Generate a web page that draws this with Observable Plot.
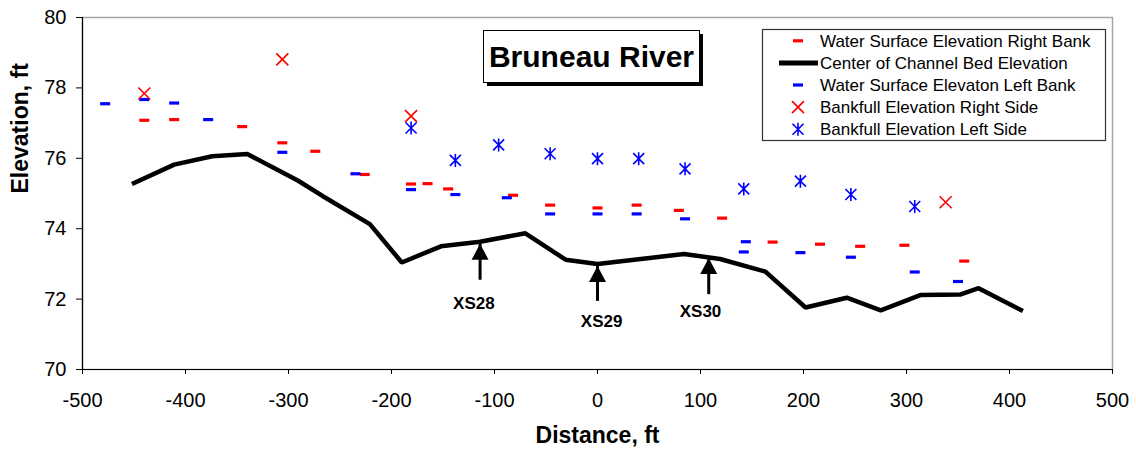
<!DOCTYPE html>
<html><head><meta charset="utf-8">
<script src="https://cdn.jsdelivr.net/npm/d3@7"></script>
<script src="https://cdn.jsdelivr.net/npm/@observablehq/plot@0.6"></script>
<style>body{margin:0;background:#fff;} #chart{width:1136px;height:450px;}</style>
</head><body><div id="chart"></div>
<script>
// ---- data ----
const bedX = [-452,-411,-374,-340,-291,-267,-221,-190,-152,-114,-70,-31,0,84,119,163,202,242,275,314,352,370,413];
const bedY = [75.27,75.82,76.06,76.12,75.37,74.93,74.13,73.04,73.50,73.63,73.87,73.12,73.00,73.28,73.14,72.78,71.76,72.04,71.68,72.12,72.13,72.31,71.66];

const wsRightX = [-440,-411,-345,-306,-274,-226,-181,-165,-145,-82,-46,0,38,79,121,170,216,255,298,356];
const wsRightY = [77.08,77.10,76.90,76.44,76.20,75.54,75.27,75.28,75.13,74.95,74.67,74.59,74.67,74.52,74.30,73.62,73.56,73.50,73.53,73.08];

const wsLeftX = [-478,-440,-411,-378,-306,-235,-181,-138,-88,-46,0,38,85,144,142,197,246,308,350];
const wsLeftY = [77.55,77.67,77.57,77.10,76.17,75.56,75.11,74.97,74.88,74.42,74.42,74.42,74.28,73.63,73.34,73.32,73.19,72.77,72.50];

const bankRightX = [-440,-306,-181,338];
const bankRightY = [77.84,78.81,77.20,74.75];

const bankLeftX = [-181,-138,-96,-46,0,40,85,142,197,246,308];
const bankLeftY = [76.86,75.94,76.38,76.13,75.99,75.99,75.70,75.13,75.35,74.97,74.63];

const xsLabels = ["XS28","XS29","XS30"];
const xsX = [-114,0,108];
const xsTipY = [73.57,72.94,73.17];
const xsBaseY = [72.55,71.95,72.14];
const xsLabelX = [-120,4,100];
const xsLabelY = [71.86,71.36,71.64];

const xTicks = [-500,-400,-300,-200,-100,0,100,200,300,400,500];
const yTicks = [70,72,74,76,78,80];

const seriesNames = ["Water Surface Elevation Right Bank","Center of Channel Bed Elevation","Water Surface Elevaton Left Bank","Bankfull Elevation Right Side","Bankfull Elevation Left Side"];
const chartTitle = "Bruneau River";

// ---- tables ----
const zip = (xs, ys) => xs.map((x, i) => ({x, y: ys[i]}));
const bed = zip(bedX, bedY), wsR = zip(wsRightX, wsRightY), wsL = zip(wsLeftX, wsLeftY);
const bkR = zip(bankRightX, bankRightY), bkL = zip(bankLeftX, bankLeftY);
const xs = xsLabels.map((t, i) => ({t, x: xsX[i], tip: xsTipY[i], base: xsBaseY[i], lx: xsLabelX[i], ly: xsLabelY[i]}));

// ---- symbols ----
const dashSym = {draw(c){c.moveTo(-5,-1.6);c.lineTo(5,-1.6);c.lineTo(5,1.6);c.lineTo(-5,1.6);c.closePath();}};
const timesSym = {draw(c){const s=6;c.moveTo(-s,-s);c.lineTo(s,s);c.moveTo(-s,s);c.lineTo(s,-s);}};
const starSym = {draw(c){const s=6.5,d=5.5;c.moveTo(0,-s);c.lineTo(0,s);c.moveTo(-d,-d);c.lineTo(d,d);c.moveTo(-d,d);c.lineTo(d,-d);}};
const headSym = {draw(c){c.moveTo(0,0);c.lineTo(8.5,16);c.lineTo(-8.5,16);c.closePath();}};

const FONT = "'Liberation Sans', Arial, sans-serif";

const chart = Plot.plot({
  width: 1136, height: 450,
  marginLeft: 82, marginRight: 24, marginTop: 17, marginBottom: 81,
  style: {fontFamily: FONT, background: "#fff", color: "#000"},
  x: {domain: [-500, 500]},
  y: {domain: [70, 80]},
  marks: [
    Plot.frame({stroke: "#a6a6a6", strokeWidth: 1.5}),
    Plot.ruleX([-500], {stroke: "#000", strokeWidth: 1.2}),
    Plot.ruleY([70], {stroke: "#000", strokeWidth: 1.2}),
    Plot.axisX({ticks: xTicks, tickSize: 5, tickPadding: 18, fontSize: 20, label: null, tickFormat: d => String(d)}),
    Plot.axisY({ticks: yTicks, tickSize: 6, tickPadding: 10, fontSize: 20, label: null}),
    Plot.text(["Distance, ft"], {frameAnchor: "bottom", dy: 66, fontSize: 23, fontWeight: "bold", lineAnchor: "middle"}),
    Plot.text(["Elevation, ft"], {frameAnchor: "left", dx: -62, rotate: -90, fontSize: 23, fontWeight: "bold", lineAnchor: "middle"}),
    Plot.line(bed, {x: "x", y: "y", stroke: "#000", strokeWidth: 4.5, strokeLinejoin: "miter", strokeLinecap: "butt"}),
    Plot.dot(wsR, {x: "x", y: "y", symbol: dashSym, fill: "#ff0000", stroke: "none"}),
    Plot.dot(wsL, {x: "x", y: "y", symbol: dashSym, fill: "#0000ff", stroke: "none"}),
    Plot.dot(bkR, {x: "x", y: "y", symbol: timesSym, stroke: "#ff0000", fill: "none", strokeWidth: 1.6}),
    Plot.dot(bkL, {x: "x", y: "y", symbol: starSym, stroke: "#0000ff", fill: "none", strokeWidth: 1.6}),
    Plot.link(xs, {x1: "x", x2: "x", y1: "base", y2: "tip", stroke: "#000", strokeWidth: 3}),
    Plot.dot(xs, {x: "x", y: "tip", symbol: headSym, fill: "#000", stroke: "none"}),
    Plot.text(xs, {x: "lx", y: "ly", text: "t", fontSize: 17, fontWeight: "bold", lineAnchor: "middle"})
  ]
});
document.getElementById("chart").appendChild(chart);

// ---- title box and legend (overlays) ----
const svg = d3.select(chart);
const tg = svg.append("g");
tg.append("rect").attr("x", 487).attr("y", 34).attr("width", 216).attr("height", 52).attr("fill", "#000");
tg.append("rect").attr("x", 483.5).attr("y", 30.5).attr("width", 216).attr("height", 52).attr("fill", "#fff").attr("stroke", "#000").attr("stroke-width", 1);
tg.append("text").attr("x", 591.5).attr("y", 66.5).attr("text-anchor", "middle").attr("font-size", 30).attr("font-weight", "bold").attr("font-family", FONT).attr("fill", "#000").text(chartTitle);

const lg = svg.append("g").attr("transform", "translate(762,29)");
lg.append("rect").attr("x", 0.5).attr("y", 0.5).attr("width", 343).attr("height", 111).attr("fill", "#fff").attr("stroke", "#333").attr("stroke-width", 1.2);
const rowY = i => 11.8 + i * 22.1;
const legSyms = [
  {sym: dashSym, fill: "#ff0000"},
  {line: true},
  {sym: dashSym, fill: "#0000ff"},
  {sym: timesSym, stroke: "#ff0000"},
  {sym: starSym, stroke: "#0000ff"}
];
seriesNames.forEach((name, i) => {
  const s = legSyms[i];
  if (s.line) {
    lg.append("line").attr("x1", 17).attr("x2", 56).attr("y1", rowY(i)).attr("y2", rowY(i)).attr("stroke", "#000").attr("stroke-width", 5);
  } else {
    lg.append("path").attr("transform", `translate(36,${rowY(i)})`).attr("d", d3.symbol(s.sym)())
      .attr("fill", s.fill || "none").attr("stroke", s.stroke || "none").attr("stroke-width", 1.6);
  }
  lg.append("text").attr("x", 58).attr("y", rowY(i)).attr("dy", "0.35em").attr("text-anchor", "start")
    .attr("font-size", 17).attr("font-family", FONT).attr("fill", "#000").text(name);
});
</script></body></html>
